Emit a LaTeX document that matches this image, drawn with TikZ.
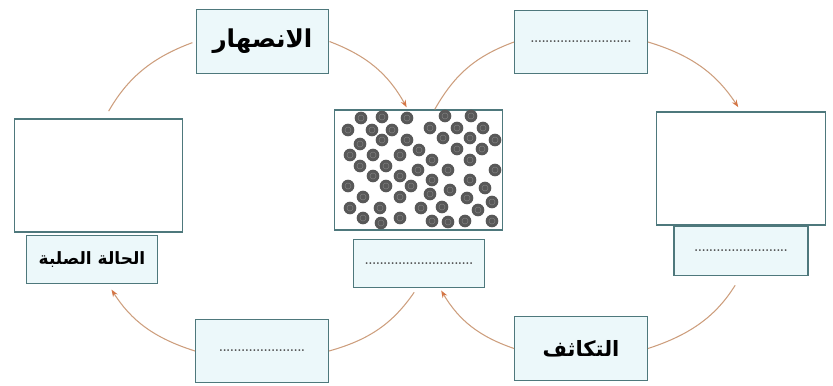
\documentclass[tikz,border=0pt]{standalone}
\usepackage{fontspec}
\usetikzlibrary{arrows.meta}
\newfontfamily\arabicfont[Script=Arabic]{DejaVu Sans}
\TeXXeTstate=1
\definecolor{boxline}{RGB}{78,120,124}
\definecolor{boxfill}{RGB}{236,248,250}
\definecolor{arcline}{RGB}{205,158,125}
\definecolor{arctip}{RGB}{212,118,70}
\definecolor{dotgray}{RGB}{70,70,70}
\definecolor{ballgray}{RGB}{88,88,88}

\begin{document}
\begin{tikzpicture}[x=0.03cm,y=-0.03cm,
		box/.style={draw=boxline,fill=boxfill,line width=1.1pt,inner sep=0pt},
		stepbox/.style={box,minimum width=3.98cm,minimum height=1.9cm},
		bigbox/.style={box,fill=white,minimum width=5.05cm,minimum height=3.39cm},
		lblbox/.style={box,minimum width=3.95cm,minimum height=1.46cm},
		ar/.style={font=\arabicfont\bfseries\fontsize{#1}{24}\selectfont},
		dots/.style={font=\bfseries\fontsize{10}{10}\selectfont,text=dotgray},
		arc/.style={draw=arcline,line width=0.9pt,bend left=20},
		tip/.style={arc,-{Stealth[length=2.2mm,width=1.6mm,color=arctip]}}]
	\useasboundingbox (0,0) rectangle (833,385);
	\node[bigbox] (S) at (98.5,175.5) {};
	\node[lblbox,ar=14.5] (SL) at (92,259.5) {\beginR الحالة الصلبة\endR};
	\node[stepbox,ar=21] (M) at (262.5,41.5) {\beginR الانصهار\endR};
	\node[stepbox,dots] (F) at (262,351) {.......................};
	\node[bigbox,minimum height=3.6cm] (L) at (418.5,170) {};
	\foreach \x/\y in {361/118,382/117,407/118,348/130,372/130,392/130,382/140,407/140,360/144,
		350/155,373/155,400/155,419/150,360/166,386/166,373/176,400/176,418/170,348/186,386/186,
		411/186,363/197,400/197,350/208,380/208,421/208,363/218,400/218,381/223,
		445/116,471/116,430/128,457/128,483/128,443/138,470/138,495/140,457/149,482/149,
		432/160,470/160,448/170,495/170,432/180,470/180,430/194,450/190,485/188,467/198,
		492/202,442/207,478/210,432/221,448/222,465/221,492/221}{
		\fill[ballgray] (\x,\y) circle[radius=0.19cm];
		\draw[ballgray!75!white,line width=0.4pt] (\x,\y) circle[radius=0.09cm];
	}
	\node[lblbox,dots] (LL) at (419,263.5) {.............................};
	\node[stepbox,dots] (V) at (581,42) {...........................};
	\node[bigbox] (G) at (741,168.5) {};
	\node[lblbox,dots,minimum width=4.02cm] (GL) at (741,251) {.........................};
	\node[stepbox,ar=18] (C) at (581,348.5) {\beginR التكاثف\endR};
	\draw[arc,shorten <=0.25cm,shorten >=0.1cm] (S.84) to (M.west);
	\draw[tip,shorten >=2pt] (M.east) to (L.100);
	\draw[arc] (L.75) to (V.west);
	\draw[tip,shorten >=0.15cm] (V.east) to (G.north);
	\draw[arc,shorten <=0.33cm] (GL.south) to (C.east);
	\draw[tip,shorten >=2pt] (C.west) to (LL.-50);
	\draw[arc,shorten <=4pt] (LL.-95) to (F.east);
	\draw[tip,shorten >=0.18cm] (F.west) to (SL.-57);
\end{tikzpicture}
\end{document}
